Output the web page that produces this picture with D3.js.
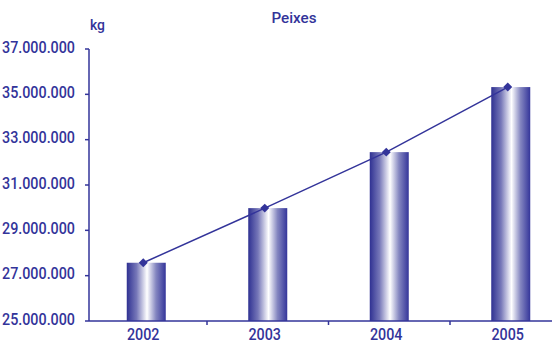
<!DOCTYPE html>
<html><head><meta charset="utf-8">
<script src="https://cdn.jsdelivr.net/npm/d3@7"></script>
<style>body{margin:0;background:#fff}svg{display:block}</style>
</head><body><svg id="c" width="552" height="343"></svg>
<script>
const categories = ["2002","2003","2004","2005"];
const values = [27570000, 29980000, 32450000, 35320000];
const yTicks = [25000000,27000000,29000000,31000000,33000000,35000000,37000000];
const title = "Peixes";
const unit = "kg";

const col = "#33349a";
const font = "Roboto,'DejaVu Sans Condensed',sans-serif";
const svg = d3.select("#c");
const defs = svg.append("defs");
const g = defs.append("linearGradient").attr("id","bg").attr("x1","0").attr("x2","1").attr("y1","0").attr("y2","0");
[[0,"#2f3192"],[0.25,"#7677b8"],[0.52,"#ffffff"],[0.75,"#8486c0"],[1,"#34359a"]].forEach(([o,c])=>g.append("stop").attr("offset",o).attr("stop-color",c));

const x = d3.scaleBand().domain(categories).range([85.5,571.5]).paddingInner(0).paddingOuter(0);
const y = d3.scaleLinear().domain([25000000,37000000]).range([321,49]);
const bw = 39;
const off = -3;

function txt(sel){ return sel.attr("font-family",font).attr("font-weight",500).attr("fill",col).attr("lengthAdjust","spacingAndGlyphs"); }

// bars
svg.selectAll("rect.bar").data(values).join("rect").attr("class","bar")
  .attr("x",(d,i)=>x(categories[i])+x.bandwidth()/2-bw/2).attr("width",bw)
  .attr("y",d=>y(d)).attr("height",d=>y(25000000)-y(d)).attr("fill","url(#bg)");

// y axis
svg.append("line").attr("x1",89).attr("x2",89).attr("y1",y(37000000)).attr("y2",y(25000000)).attr("stroke",col).attr("stroke-width",1.5);
yTicks.forEach(t=>{
  svg.append("line").attr("x1",85).attr("x2",89).attr("y1",y(t)).attr("y2",y(t)).attr("stroke",col).attr("stroke-width",1.5);
  txt(svg.append("text")).attr("x",75).attr("y",y(t)+3.5).attr("text-anchor","end")
    .attr("font-size",17).attr("textLength",73).text(d3.format(",")(t).replace(/,/g,"."));
});
// x axis
svg.append("line").attr("x1",89).attr("x2",552).attr("y1",321).attr("y2",321).attr("stroke",col).attr("stroke-width",1.5);
categories.slice(1).forEach(c=>{
  svg.append("line").attr("x1",x(c)).attr("x2",x(c)).attr("y1",321).attr("y2",325).attr("stroke",col).attr("stroke-width",1.5);
});
categories.forEach(c=>{
  txt(svg.append("text")).attr("x",x(c)+x.bandwidth()/2+off).attr("y",340).attr("text-anchor","middle")
    .attr("font-size",17).attr("textLength",32.5).text(c);
});

// line
const line = d3.line().x((d,i)=>x(categories[i])+x.bandwidth()/2+off).y(d=>y(d));
svg.append("path").attr("d",line(values)).attr("fill","none").attr("stroke",col).attr("stroke-width",1.5);
svg.selectAll("path.m").data(values).join("path").attr("class","m")
  .attr("d",d3.symbol(d3.symbolSquare,40)())
  .attr("transform",(d,i)=>`translate(${x(categories[i])+x.bandwidth()/2+off},${y(d)}) rotate(45)`).attr("fill",col);

txt(svg.append("text")).attr("x",294).attr("y",23.3).attr("text-anchor","middle").attr("font-size",14).attr("textLength",45).text(title);
txt(svg.append("text")).attr("x",90).attr("y",30).attr("font-size",15).attr("textLength",15).text(unit);
</script></body></html>
